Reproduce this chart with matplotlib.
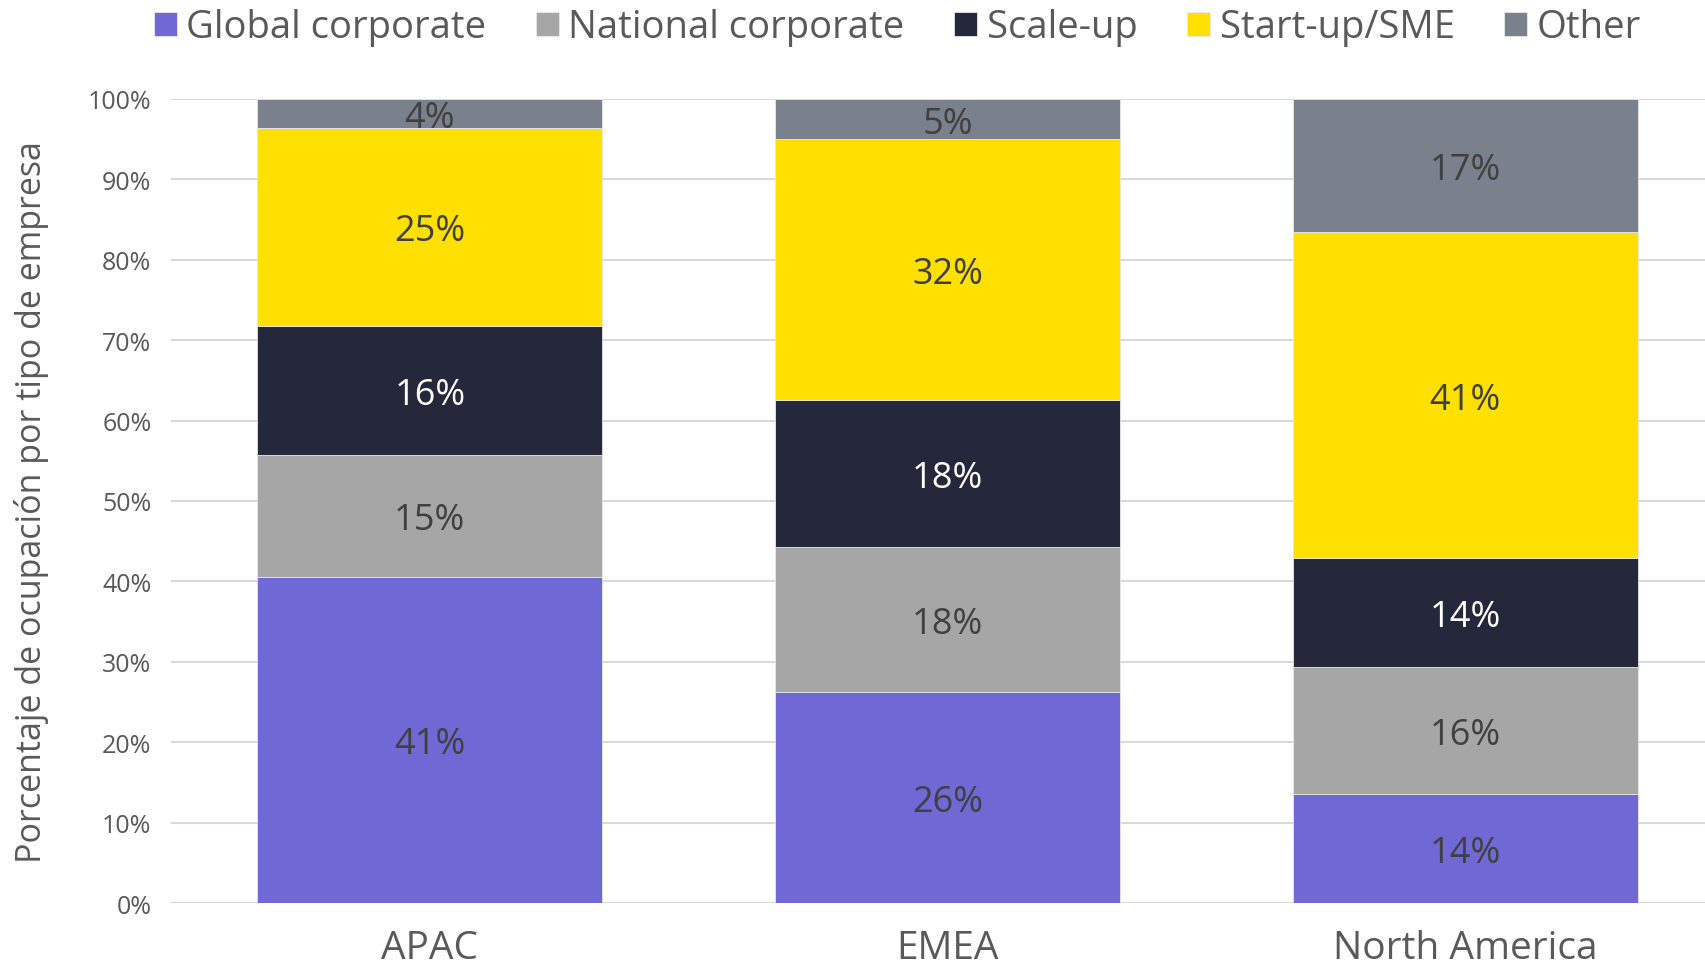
import matplotlib
matplotlib.use('Agg')
import matplotlib.pyplot as plt
import numpy as np

plt.rcParams['font.family'] = ['Open Sans', 'DejaVu Sans']

regions = ['APAC', 'EMEA', 'North America']
series = ['Global corporate', 'National corporate', 'Scale-up', 'Start-up/SME', 'Other']
global_corp = [40.6, 26.2, 13.6]
national_corp = [15.1, 18.1, 15.7]
scale_up = [16.1, 18.3, 13.6]
startup_sme = [24.6, 32.4, 40.5]
other = [3.6, 5.0, 16.6]

colors = ['#7068D4', '#A6A6A6', '#25273A', '#FFE000', '#7A808C']
label_colors = ['#404040', '#404040', 'white', '#404040', '#404040']
text_grey = '#595959'

fig = plt.figure(figsize=(17.06, 9.70), dpi=100)
ax = fig.add_axes([0.1002, 0.068, 0.9104, 0.829])

x = np.arange(len(regions))
bottom = np.zeros(len(regions))
data = [global_corp, national_corp, scale_up, startup_sme, other]
for vals, name, c, lc in zip(data, series, colors, label_colors):
    vals = np.array(vals)
    ax.bar(x, vals, 0.666, bottom=bottom, color=c, label=name,
           edgecolor='#E8E8E8', linewidth=0.6, zorder=2)
    # labels rounded half up, like the source
    for xi, v, b in zip(x, vals, bottom):
        ax.text(xi, b + v / 2, f'{int(v + 0.5)}%', ha='center',
                va='center_baseline', fontsize=26, color=lc, zorder=3)
    bottom += vals

ax.set_xlim(-0.5, 2.5)
ax.set_ylim(0, 100)
ax.set_yticks(np.arange(0, 101, 10))
ax.set_yticklabels([f'{t}%' for t in range(0, 101, 10)])
ax.set_xticks(x)
ax.set_xticklabels(regions)
ax.tick_params(axis='y', length=0, labelsize=18, labelcolor=text_grey, pad=14)
ax.tick_params(axis='x', length=0, labelsize=28, labelcolor=text_grey, pad=19)
ax.yaxis.grid(True, color='#D9D9D9', linewidth=1.5, zorder=0)
for s in ax.spines.values():
    s.set_visible(False)
ax.set_ylabel('Porcentaje de ocupación por tipo de empresa', fontsize=24.5,
              color=text_grey, labelpad=28)

fig.legend(loc='upper center', bbox_to_anchor=(0.526, 1.026), ncol=5,
           frameon=False, fontsize=27.5, handlelength=0.6, handleheight=0.6,
           handletextpad=0.25, columnspacing=1.3, labelcolor=text_grey)

fig.savefig('out.png', dpi=100)
